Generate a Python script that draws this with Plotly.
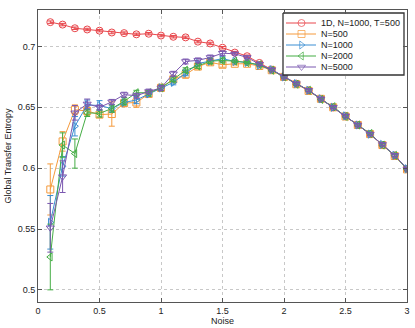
import plotly.graph_objects as go

# noise levels
noise = [round(0.1 * i, 1) for i in range(1, 31)]

te_1d = [0.720, 0.718, 0.715, 0.714, 0.713, 0.7115, 0.711, 0.710, 0.7105, 0.709,
         0.708, 0.7075, 0.704, 0.7025, 0.699, 0.695, 0.692, 0.6865, 0.681, 0.675,
         0.6695, 0.664, 0.657, 0.650, 0.643, 0.6355, 0.628, 0.619, 0.6105, 0.5995]
err_1d = [0.001] * 30

te_500 = [0.5825, 0.622, 0.648, 0.647, 0.644, 0.6445, 0.6535, 0.654, 0.661, 0.666,
          0.673, 0.677, 0.6835, 0.687, 0.685, 0.6858, 0.6858, 0.684, 0.6805, 0.675,
          0.669, 0.6635, 0.657, 0.650, 0.6425, 0.6355, 0.628, 0.619, 0.610, 0.599]
err_500 = [0.021, 0.008, 0.004, 0.004, 0.002, 0.010, 0.003, 0.004, 0.002, 0.003,
           0.002, 0.003, 0.002, 0.002, 0.002, 0.001, 0.001, 0.001, 0.001, 0.001,
           0.001, 0.001, 0.001, 0.001, 0.001, 0.001, 0.001, 0.001, 0.001, 0.001]

te_1000 = [0.5555, 0.6015, 0.6345, 0.652, 0.6515, 0.649, 0.654, 0.656, 0.661, 0.666,
           0.6705, 0.678, 0.686, 0.688, 0.690, 0.6877, 0.687, 0.6845, 0.681, 0.675,
           0.6695, 0.664, 0.657, 0.650, 0.643, 0.6355, 0.628, 0.6195, 0.6105, 0.5995]
err_1000 = [0.022, 0.008, 0.008, 0.004, 0.004, 0.003, 0.002, 0.003, 0.002, 0.002,
            0.002, 0.002, 0.002, 0.002, 0.002, 0.001, 0.001, 0.001, 0.001, 0.001,
            0.001, 0.001, 0.001, 0.001, 0.001, 0.001, 0.001, 0.001, 0.001, 0.001]

te_2000 = [0.527, 0.619, 0.612, 0.6455, 0.645, 0.649, 0.655, 0.662, 0.662, 0.666,
           0.673, 0.6805, 0.684, 0.688, 0.6885, 0.688, 0.6868, 0.685, 0.6805, 0.675,
           0.669, 0.664, 0.6565, 0.6505, 0.6425, 0.6355, 0.6285, 0.619, 0.6105, 0.599]
err_2000 = [0.027, 0.010, 0.012, 0.003, 0.003, 0.003, 0.003, 0.002, 0.002, 0.002,
            0.002, 0.002, 0.002, 0.002, 0.002, 0.001, 0.001, 0.001, 0.001, 0.001,
            0.001, 0.001, 0.001, 0.001, 0.001, 0.001, 0.001, 0.001, 0.001, 0.001]

te_5000 = [0.551, 0.593, 0.6455, 0.6528, 0.650, 0.6545, 0.6604, 0.6596, 0.663, 0.666,
           0.6776, 0.6877, 0.6886, 0.691, 0.6945, 0.694, 0.691, 0.6855, 0.681, 0.675,
           0.6695, 0.664, 0.657, 0.650, 0.643, 0.6355, 0.628, 0.6195, 0.6105, 0.5995]
err_5000 = [0.020, 0.013, 0.006, 0.004, 0.002, 0.002, 0.002, 0.002, 0.002, 0.002,
            0.002, 0.002, 0.002, 0.002, 0.002, 0.001, 0.001, 0.001, 0.001, 0.001,
            0.001, 0.001, 0.001, 0.001, 0.001, 0.001, 0.001, 0.001, 0.001, 0.001]

series = [
    ("1D, N=1000, T=500", te_1d, err_1d, "#e8474c", "circle-open"),
    ("N=500", te_500, err_500, "#f59a3c", "square-open"),
    ("N=1000", te_1000, err_1000, "#3a8ed3", "triangle-right-open"),
    ("N=2000", te_2000, err_2000, "#45ad45", "triangle-left-open"),
    ("N=5000", te_5000, err_5000, "#7b58b0", "triangle-down-open"),
]

fig = go.Figure()
for name, y, err, color, sym in series:
    fig.add_trace(go.Scatter(
        x=noise, y=y, name=name, mode="lines+markers", showlegend=False,
        line=dict(color=color, width=1),
        marker=dict(symbol=sym, size=7, color=color, line=dict(width=1, color=color)),
        error_y=dict(type="data", array=err, color=color, thickness=1, width=3),
    ))

# compact legend box drawn on an overlay axis measured in pixels (sits above the data)
fig.add_trace(go.Scatter(
    x=[283, 404, 404, 283, 283], y=[13, 13, 75, 75, 13], xaxis="x2", yaxis="y2",
    mode="lines", fill="toself", fillcolor="white", showlegend=False, hoverinfo="skip",
    line=dict(color="#333333", width=1.3),
))
for i, (name, y, err, color, sym) in enumerate(series):
    row = 23 + i * 11
    fig.add_trace(go.Scatter(
        x=[286, 301.5, 316], y=[row, row, row], xaxis="x2", yaxis="y2",
        mode="lines+markers", showlegend=False, hoverinfo="skip",
        line=dict(color=color, width=1),
        marker=dict(symbol=sym, size=[0, 7, 0], color=color, line=dict(width=1, color=color)),
    ))
    fig.add_annotation(x=319, y=row, xref="x2", yref="y2", text=name, showarrow=False,
                       xanchor="left", yanchor="middle", font=dict(size=9, color="#222222"))

axis_style = dict(
    showline=True, linecolor="#555555", linewidth=1, mirror="ticks",
    ticks="inside", ticklen=4, tickcolor="#555555",
    showgrid=True, gridcolor="#c8c8c8", griddash="dot", gridwidth=1,
    zeroline=False, tickfont=dict(size=9, color="#222222"), automargin=False,
)

fig.update_layout(
    width=415, height=328,
    margin=dict(l=38, r=8, t=10, b=26),
    plot_bgcolor="white", paper_bgcolor="white",
    font=dict(family="Liberation Sans, Arial, sans-serif", size=9, color="#222222"),
    xaxis=dict(range=[0, 3], tickvals=[0, 0.5, 1, 1.5, 2, 2.5, 3],
               ticktext=["0", "0.5", "1", "1.5", "2", "2.5", "3"],
               title=dict(text="Noise", font=dict(size=9), standoff=0), **axis_style),
    yaxis=dict(range=[0.49, 0.73], tickvals=[0.5, 0.55, 0.6, 0.65, 0.7],
               ticktext=["0.5", "0.55", "0.6", "0.65", "0.7"],
               title=dict(text="Global Transfer Entropy", font=dict(size=9), standoff=4),
               **axis_style),
    xaxis2=dict(overlaying="x", range=[38, 407], visible=False, fixedrange=True),
    yaxis2=dict(overlaying="y", range=[302, 10], visible=False, fixedrange=True),
    showlegend=False,
)

fig.write_html("out.html", config={"displayModeBar": False},
               post_script="document.body.style.margin='0';")
